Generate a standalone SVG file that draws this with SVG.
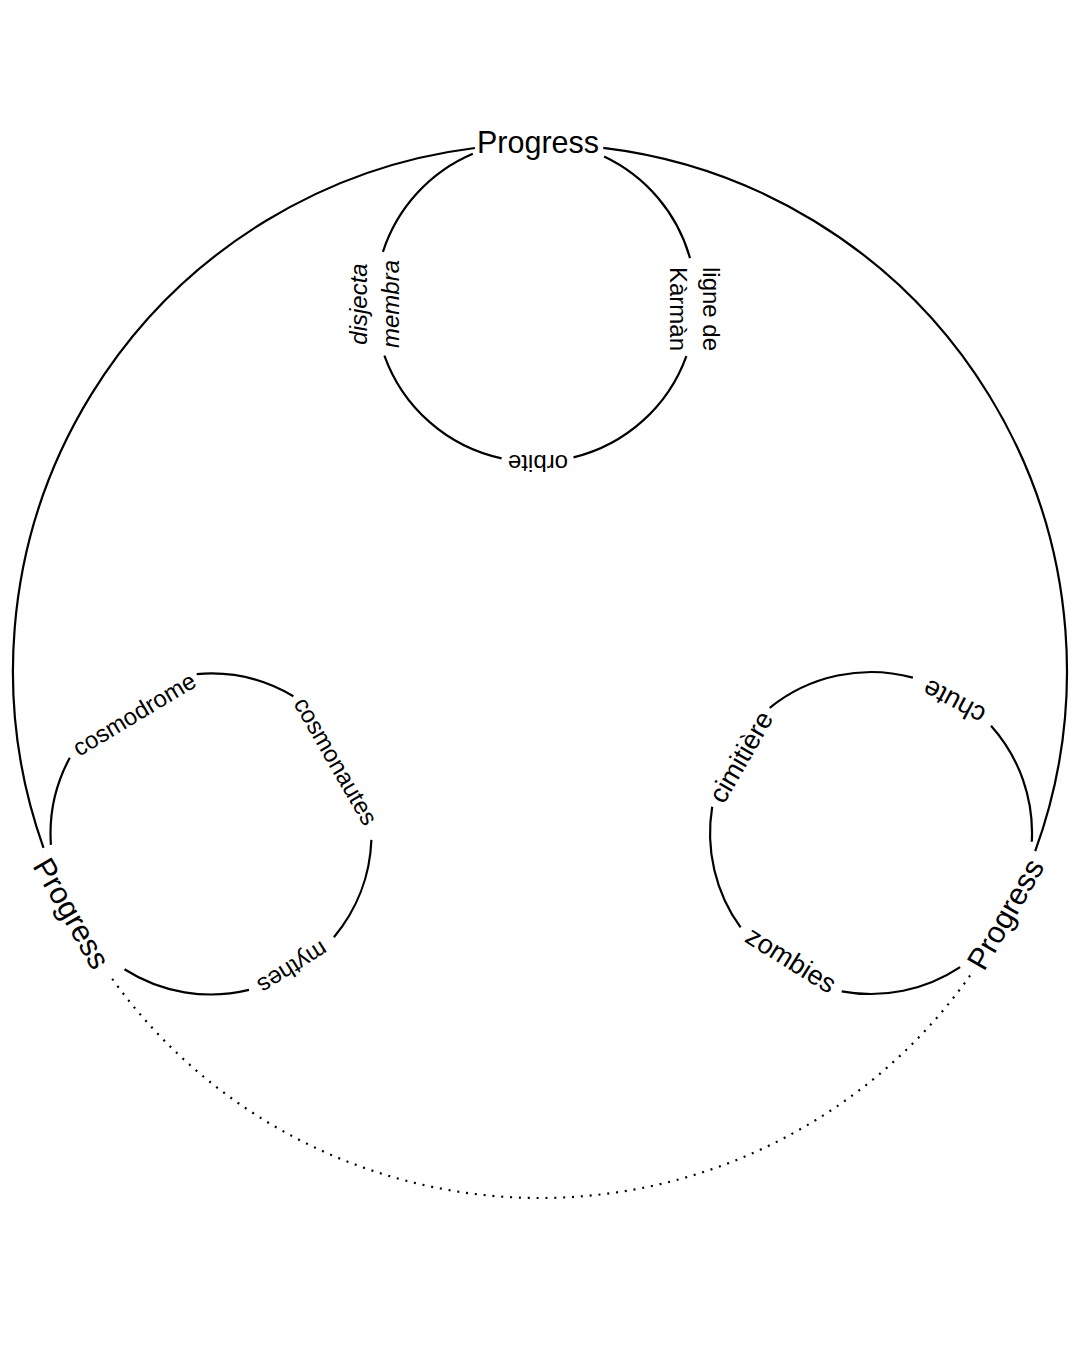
<svg xmlns="http://www.w3.org/2000/svg" width="1080" height="1350" viewBox="0 0 1080 1350">
<style>
.ln{fill:none;stroke:#000;stroke-width:2.2}
.dot{fill:none;stroke:#000;stroke-width:2.2;stroke-dasharray:2 6.85}
text{font-family:"Liberation Sans",Arial,sans-serif;fill:#000;text-anchor:middle;dominant-baseline:central}
.big{font-size:30.5px}
.sm{font-size:24px}
.md{font-size:27px}
.it{font-style:italic}
</style>
<rect width="1080" height="1350" fill="#fff"/>
<g id="connectors">
<path class="ln" d="M43.5,847.8 A527,527 0 0 1 474.9,148.0"/>
<path class="ln" d="M603.3,147.8 A527,527 0 0 1 1035.2,851.2"/>
<path class="dot" d="M970.1,975.5 A527,527 0 0 1 110.4,976.3"/>
<path class="ln" d="M604.1,156.4 A160.5,160.5 0 0 1 690.0,258.1"/>
<path class="ln" d="M686.4,356.1 A160.5,160.5 0 0 1 573.5,457.4"/>
<path class="ln" d="M501.6,458.4 A160.5,160.5 0 0 1 384.4,355.6"/>
<path class="ln" d="M382.9,251.9 A160.5,160.5 0 0 1 472.8,153.8"/>
<path class="ln" d="M196.7,674.1 A160.5,160.5 0 0 1 293.4,696.3"/>
<path class="ln" d="M371.4,839.9 A160.5,160.5 0 0 1 333.9,937.2"/>
<path class="ln" d="M249.0,989.9 A160.5,160.5 0 0 1 124.5,969.2"/>
<path class="ln" d="M50.9,844.9 A160.5,160.5 0 0 1 69.8,757.7"/>
<path class="ln" d="M769.7,707.9 A161,161 0 0 1 912.9,677.6"/>
<path class="ln" d="M991.0,725.7 A161,161 0 0 1 1031.8,841.7"/>
<path class="ln" d="M960.1,967.1 A161,161 0 0 1 841.7,991.3"/>
<path class="ln" d="M740.6,927.4 A161,161 0 0 1 712.2,806.7"/>
</g>
<g id="progress-top"><text class="big" x="538" y="142">Progress</text></g>
<g id="progress-left"><text class="big" transform="translate(72,913) rotate(60)">Progress</text></g>
<g id="progress-right"><text class="big" transform="translate(1005,914) rotate(-60)">Progress</text></g>
<g id="disjecta-membra" transform="translate(374.5,304) rotate(-90)">
<text class="sm it" y="-16">disjecta</text>
<text class="sm it" y="16">membra</text>
</g>
<g id="ligne-de-karman" transform="translate(695,309) rotate(90)">
<text class="sm" y="-16.7">ligne de</text>
<text class="sm" y="16.7">Kàrmàn</text>
</g>
<g id="orbite"><text class="sm" transform="translate(538,463) rotate(180)">orbite</text></g>
<g id="cosmodrome"><text class="sm" transform="translate(134,714) rotate(-31)">cosmodrome</text></g>
<g id="cosmonautes"><text class="sm" transform="translate(336,761) rotate(60)">cosmonautes</text></g>
<g id="mythes"><text class="sm" transform="translate(293,968) rotate(148)">mythes</text></g>
<g id="cimitiere"><text class="md" transform="translate(741,757) rotate(-60)">cimitière</text></g>
<g id="chute"><text class="md" transform="translate(954,702) rotate(208)">chute</text></g>
<g id="zombies"><text class="md" transform="translate(791,960) rotate(32)">zombies</text></g>
</svg>
